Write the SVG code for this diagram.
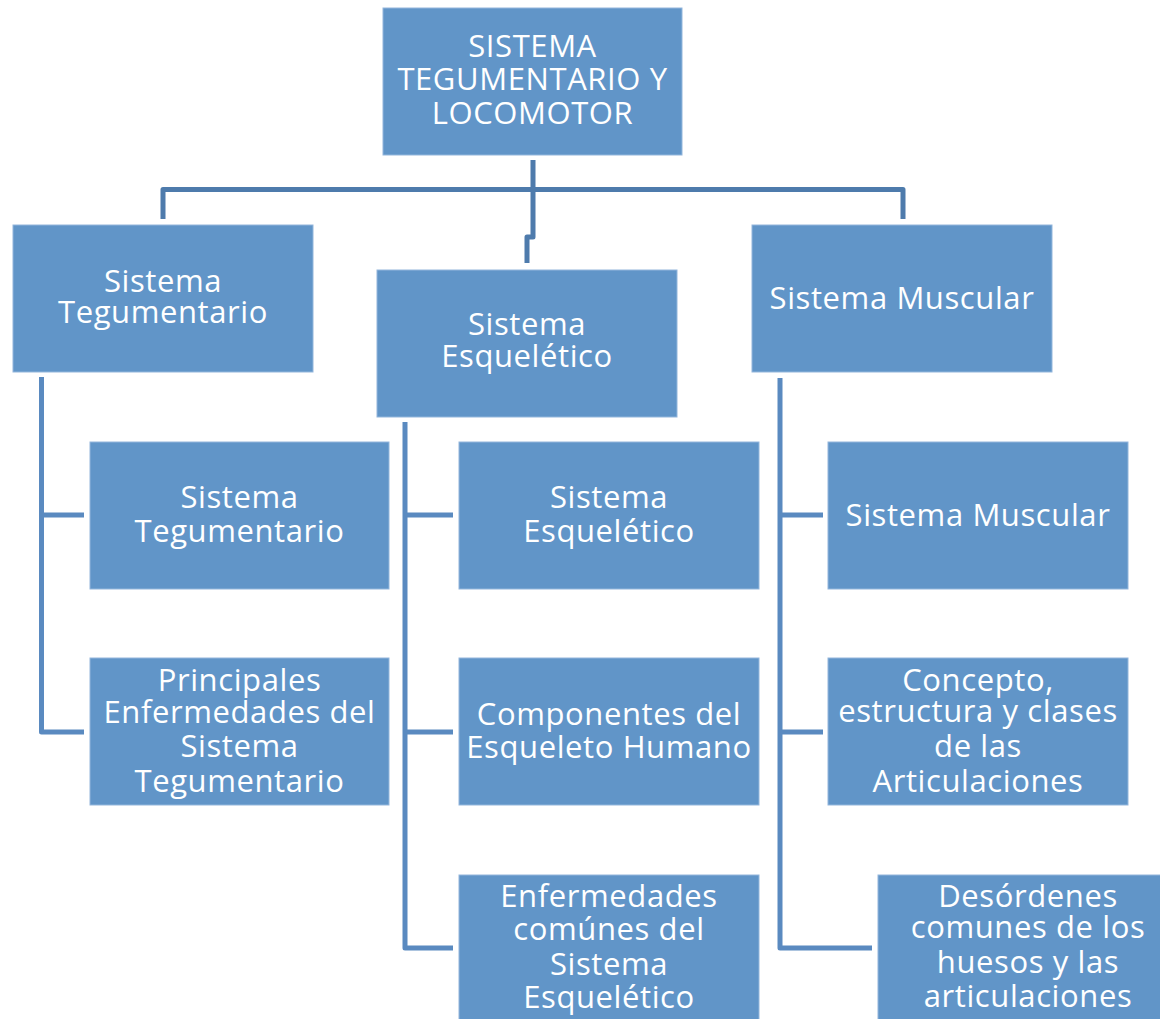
<svg xmlns="http://www.w3.org/2000/svg" width="1160" height="1019" viewBox="0 0 1160 1019">
<style>
.box{fill:#6195C8;stroke:#93B6DC;stroke-width:1}
.t{font-family:"Open Sans","Noto Sans",sans-serif;font-size:31px;fill:#FFFFFF;text-anchor:middle;letter-spacing:0.6px}
.c1{fill:none;stroke:#4E7BAC;stroke-width:5;stroke-linejoin:round}
.c2{fill:none;stroke:#5A8AC0;stroke-width:5;stroke-linejoin:round}
</style>
<rect width="1160" height="1019" fill="#FFFFFF"/>
<g id="connectors">
<path class="c1" d="M163,219 V189.5 H903 V219"/>
<path class="c1" d="M533,160 V237 H527 V263"/>
<path class="c2" d="M41.5,377 V732 H84 M41.5,515 H84"/>
<path class="c2" d="M405,422 V948 H453 M405,515 H453 M405,732 H453"/>
<path class="c2" d="M780,378 V948 H872 M780,515 H823 M780,732 H823"/>
</g>
<g id="n-root">
<rect class="box" x="383" y="8" width="299" height="147"/>
<text class="t" x="532.5" y="57">SISTEMA</text>
<text class="t" x="532.5" y="90">TEGUMENTARIO Y</text>
<text class="t" x="532.5" y="124">LOCOMOTOR</text>
</g>
<g id="n-teg">
<rect class="box" x="13" y="225" width="300" height="147"/>
<text class="t" x="163" y="292">Sistema</text>
<text class="t" x="163" y="323">Tegumentario</text>
</g>
<g id="n-esq">
<rect class="box" x="377" y="270" width="300" height="147"/>
<text class="t" x="527" y="335">Sistema</text>
<text class="t" x="527" y="367">Esquelético</text>
</g>
<g id="n-mus">
<rect class="box" x="752" y="225" width="300" height="147"/>
<text class="t" x="902" y="309">Sistema Muscular</text>
</g>
<g id="n-teg1">
<rect class="box" x="90" y="442" width="299" height="147"/>
<text class="t" x="239.5" y="508">Sistema</text>
<text class="t" x="239.5" y="541.5">Tegumentario</text>
</g>
<g id="n-teg2">
<rect class="box" x="90" y="658" width="299" height="147"/>
<text class="t" x="239.5" y="691">Principales</text>
<text class="t" x="239.5" y="722.5">Enfermedades del</text>
<text class="t" x="239.5" y="757">Sistema</text>
<text class="t" x="239.5" y="792">Tegumentario</text>
</g>
<g id="n-esq1">
<rect class="box" x="459" y="442" width="300" height="147"/>
<text class="t" x="609" y="508">Sistema</text>
<text class="t" x="609" y="541.5">Esquelético</text>
</g>
<g id="n-esq2">
<rect class="box" x="459" y="658" width="300" height="147"/>
<text class="t" x="609" y="725">Componentes del</text>
<text class="t" x="609" y="758">Esqueleto Humano</text>
</g>
<g id="n-esq3">
<rect class="box" x="459" y="875" width="300" height="150"/>
<text class="t" x="609" y="906.5">Enfermedades</text>
<text class="t" x="609" y="940">comúnes del</text>
<text class="t" x="609" y="975">Sistema</text>
<text class="t" x="609" y="1008">Esquelético</text>
</g>
<g id="n-mus1">
<rect class="box" x="828" y="442" width="300" height="147"/>
<text class="t" x="978" y="526">Sistema Muscular</text>
</g>
<g id="n-mus2">
<rect class="box" x="828" y="658" width="300" height="147"/>
<text class="t" x="978" y="691">Concepto,</text>
<text class="t" x="978" y="722">estructura y clases</text>
<text class="t" x="978" y="757">de las</text>
<text class="t" x="978" y="792">Articulaciones</text>
</g>
<g id="n-mus3">
<rect class="box" x="878" y="875" width="300" height="150"/>
<text class="t" x="1028" y="906.5">Desórdenes</text>
<text class="t" x="1028" y="937.5">comunes de los</text>
<text class="t" x="1028" y="973">huesos y las</text>
<text class="t" x="1028" y="1006.5">articulaciones</text>
</g>
</svg>
